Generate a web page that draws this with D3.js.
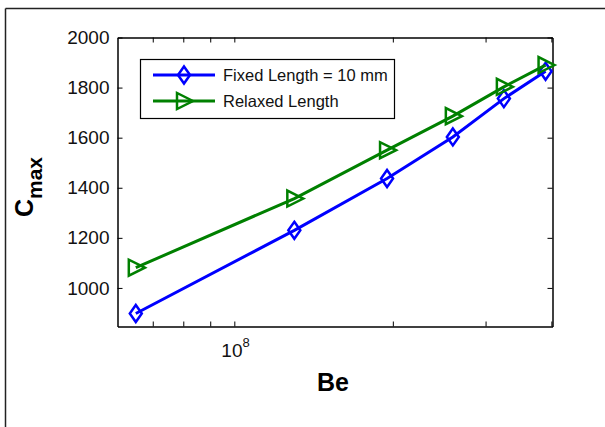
<!DOCTYPE html>
<html>
<head>
<meta charset="utf-8">
<script src="https://cdn.jsdelivr.net/npm/d3@7"></script>
<style>
  body { margin: 0; background: #fff; }
  svg { display: block; font-family: "Liberation Sans", Arial, sans-serif; }
</style>
</head>
<body>
<svg id="chart" width="605" height="427"></svg>
<script>
// data
var be = [6.5e7, 1.3e8, 1.95e8, 2.6e8, 3.25e8, 3.9e8]
var fixedLength = [898, 1230, 1437, 1603, 1756, 1865]
var relaxedLength = [1081, 1357, 1550, 1686, 1803, 1890]
var seriesNames = ['Fixed Length = 10 mm', 'Relaxed Length']
var yTicks = [1000, 1200, 1400, 1600, 1800, 2000]
var xTicks = [7e7, 8e7, 9e7, 1e8, 2e8, 3e8, 4e8]

var svg = d3.select('#chart')

var plotLeft = 117.5, plotRight = 552.5, plotTop = 37.5, plotBottom = 326.5

var x = d3.scaleLog().domain([6e7, 4.02e8]).range([plotLeft, plotRight])
var y = d3.scaleLinear().domain([846, 2000]).range([plotBottom, plotTop])

// figure frame (cropped)
svg.append('line').attr('x1', 5.5).attr('x2', 605).attr('y1', 8.5).attr('y2', 8.5)
  .attr('stroke', '#222').attr('stroke-width', 1.5)
svg.append('line').attr('x1', 5.5).attr('x2', 5.5).attr('y1', 8.5).attr('y2', 427)
  .attr('stroke', '#222').attr('stroke-width', 1.5)

// axes with inward ticks, box on
var tickLen = 5
var axBottom = svg.append('g').attr('transform', 'translate(0,' + plotBottom + ')')
  .call(d3.axisBottom(x).tickValues(xTicks).tickSizeInner(-tickLen).tickSizeOuter(0).tickFormat(''))
var axTop = svg.append('g').attr('transform', 'translate(0,' + plotTop + ')')
  .call(d3.axisTop(x).tickValues(xTicks).tickSizeInner(-tickLen).tickSizeOuter(0).tickFormat(''))
var axLeft = svg.append('g').attr('transform', 'translate(' + plotLeft + ',0)')
  .call(d3.axisLeft(y).tickValues(yTicks).tickSizeInner(-tickLen).tickSizeOuter(0)
    .tickPadding(8).tickFormat(d3.format('d')))
var axRight = svg.append('g').attr('transform', 'translate(' + plotRight + ',0)')
  .call(d3.axisRight(y).tickValues(yTicks).tickSizeInner(-tickLen).tickSizeOuter(0).tickFormat(''))

;[axBottom, axTop, axLeft, axRight].forEach(function(g){
  g.select('.domain').attr('stroke', '#000').attr('stroke-width', 1.5)
  g.selectAll('.tick line').attr('stroke', '#000').attr('stroke-width', 1)
})
axLeft.selectAll('.tick text')
  .attr('font-size', 19).attr('fill', '#111')
  .style('font-family', '"Liberation Sans", Arial, sans-serif')

// 10^8 label under the major tick
var xl = svg.append('text').attr('x', x(1e8) - 13).attr('y', 357)
  .attr('font-size', 19).attr('fill', '#111')
xl.append('tspan').text('10')
xl.append('tspan').attr('dy', -10).attr('font-size', 13).text('8')

// axis titles
svg.append('text').attr('x', 333).attr('y', 391)
  .attr('text-anchor', 'middle').attr('font-weight', 'bold').attr('font-size', 25)
  .text('Be')

var yl = svg.append('text')
  .attr('transform', 'translate(33,' + 187 + ') rotate(-90)')
  .attr('text-anchor', 'middle').attr('font-weight', 'bold')
yl.append('tspan').attr('font-size', 25).text('C')
yl.append('tspan').attr('font-size', 21).attr('dy', 9).text('max')

// series
var series = [
  { name: seriesNames[0], values: fixedLength, color: '#0000ff', marker: 'diamond' },
  { name: seriesNames[1], values: relaxedLength, color: '#008000', marker: 'triangle' }
]

var diamond = 'M0,-8.5L6,0L0,8.5L-6,0Z'
var triangle = 'M9,0L-7,-8L-7,8Z'
var markerPath = function(m){ return m == 'diamond' ? diamond : triangle }

var line = d3.line().x(function(d){ return x(d[0]) }).y(function(d){ return y(d[1]) })

series.forEach(function(s){
  var pts = be.map(function(b, i){ return [b, s.values[i]] })
  svg.append('path').datum(pts).attr('d', line)
    .attr('fill', 'none').attr('stroke', s.color).attr('stroke-width', 3)
  svg.selectAll(null).data(pts).enter().append('path')
    .attr('transform', function(d){ return 'translate(' + x(d[0]) + ',' + y(d[1]) + ')' })
    .attr('d', markerPath(s.marker))
    .attr('fill', 'none').attr('stroke', s.color).attr('stroke-width', 2.5)
})

// legend
var leg = svg.append('g')
leg.append('rect').attr('x', 140.5).attr('y', 59.5).attr('width', 254).attr('height', 59)
  .attr('fill', '#fff').attr('stroke', '#000').attr('stroke-width', 1.2)
series.forEach(function(s, i){
  var ly = 75 + i * 26
  leg.append('line').attr('x1', 153).attr('x2', 215).attr('y1', ly).attr('y2', ly)
    .attr('stroke', s.color).attr('stroke-width', 3)
  leg.append('path').attr('transform', 'translate(184,' + ly + ')')
    .attr('d', markerPath(s.marker))
    .attr('fill', 'none').attr('stroke', s.color).attr('stroke-width', 2.5)
  leg.append('text').attr('x', 223).attr('y', ly + 6)
    .attr('font-size', 16.5).attr('fill', '#111').text(s.name)
})
</script>
</body>
</html>
